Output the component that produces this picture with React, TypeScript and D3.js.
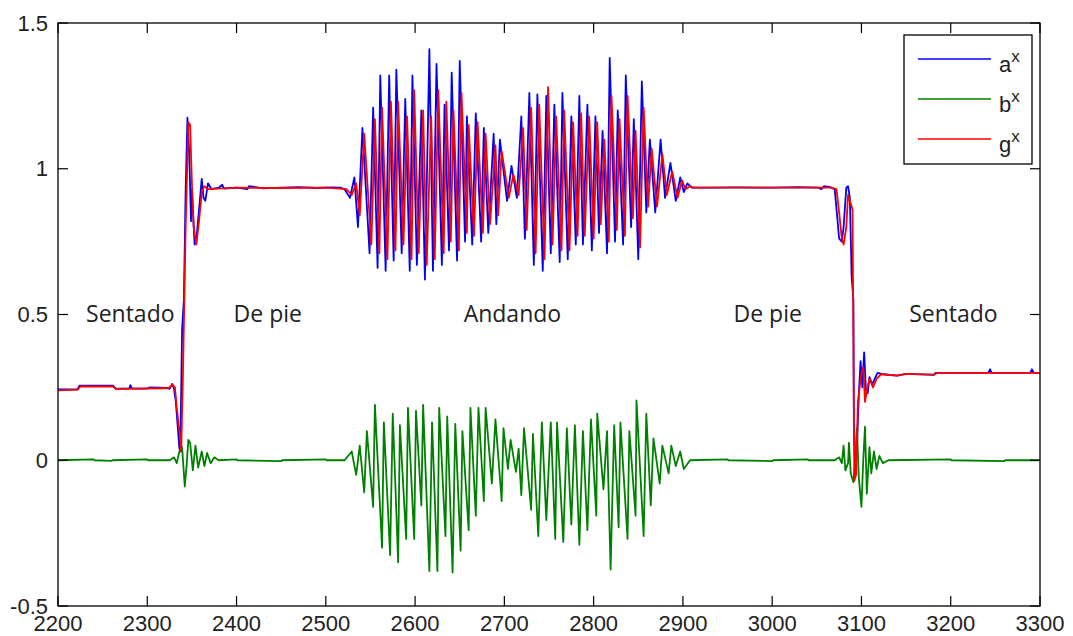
import React from 'react';
import * as d3 from 'd3';

// knots: [sample, value]
const aKnots: [number, number][] = [
  [2200, 0.243], [2222, 0.243], [2224, 0.256], [2262, 0.256], [2264, 0.246], [2280, 0.246], [2281, 0.258], [2283, 0.246],
  [2300, 0.246], [2303, 0.25], [2322, 0.248], [2325, 0.245], [2328, 0.262], [2330, 0.245], [2332, 0.2], [2334, 0.12],
  [2336, 0.04], [2337, 0.03], [2339, 0.45], [2341, 0.55], [2343, 0.93], [2345, 1.175], [2347, 1.05], [2349, 0.82],
  [2350, 0.93], [2353, 0.74], [2355, 0.76], [2358, 0.86], [2361, 0.965], [2363, 0.9], [2365, 0.89], [2368, 0.95],
  [2372, 0.93], [2380, 0.935], [2384, 0.945], [2386, 0.932], [2400, 0.935], [2412, 0.93], [2414, 0.94], [2430, 0.933],
  [2450, 0.935], [2470, 0.937], [2490, 0.934], [2505, 0.936], [2516, 0.935],
  [2521, 0.93], [2527, 0.9], [2532, 0.97], [2536, 0.8], [2541, 1.14], [2549, 0.71], [2553, 1.21], [2558, 0.66],
  [2561, 1.32], [2567, 0.65], [2571, 1.32], [2576, 0.685], [2579, 1.34], [2585, 0.71], [2589, 1.24], [2594, 0.65],
  [2597, 1.32], [2602, 0.67], [2607, 1.2], [2611, 0.62], [2616, 1.41], [2620, 0.65], [2624, 1.36], [2630, 0.67],
  [2633, 1.22], [2638, 0.72], [2641, 1.33], [2647, 0.685], [2650, 1.37], [2656, 0.75], [2658, 1.18], [2664, 0.74],
  [2668, 1.19], [2674, 0.75], [2677, 1.14], [2682, 0.78], [2688, 1.12], [2691, 0.81], [2695, 1.1], [2703, 0.89],
  [2708, 1.01], [2714, 0.9], [2719, 1.18], [2723, 0.76], [2728, 1.26], [2733, 0.67], [2737, 1.255], [2743, 0.65],
  [2747, 1.25], [2752, 0.71], [2756, 1.22], [2762, 0.68], [2765, 1.26], [2771, 0.69], [2775, 1.18], [2780, 0.74],
  [2784, 1.25], [2788, 0.74], [2793, 1.22], [2798, 0.72], [2802, 1.18], [2806, 0.78], [2810, 1.13], [2815, 0.71],
  [2818, 1.38], [2824, 0.75], [2827, 1.2], [2833, 0.74], [2836, 1.32], [2842, 0.8], [2845, 1.17], [2850, 0.69],
  [2854, 1.3], [2859, 0.85], [2863, 1.1], [2869, 0.85], [2875, 1.1], [2880, 0.9], [2886, 1.02], [2892, 0.89],
  [2897, 0.97], [2901, 0.92], [2905, 0.95], [2910, 0.935], [2930, 0.935], [2960, 0.936], [3000, 0.935],
  [3030, 0.937], [3052, 0.935], [3055, 0.93], [3058, 0.94], [3065, 0.937], [3070, 0.93], [3073, 0.83], [3075, 0.76],
  [3078, 0.75], [3080, 0.8], [3083, 0.935], [3085, 0.94], [3087, 0.9], [3089, 0.63], [3091, 0.55], [3091.5, 0.14],
  [3093, -0.045], [3095, 0.05], [3097, 0.22], [3099, 0.34], [3101, 0.25], [3103, 0.37], [3105, 0.24], [3107, 0.23],
  [3109, 0.285], [3112, 0.26], [3115, 0.28], [3118, 0.3], [3125, 0.295], [3140, 0.29], [3150, 0.296], [3181, 0.293],
  [3183, 0.3], [3242, 0.3], [3244, 0.312], [3246, 0.3], [3289, 0.3], [3291, 0.312], [3293, 0.3], [3300, 0.3],
];

const bKnots: [number, number][] = [
  [2200, 0], [2240, 0.003], [2241, 0], [2260, -0.002], [2261, 0], [2300, 0.003], [2301, 0], [2325, 0],
  [2330, 0.01], [2333, -0.01], [2336, 0.03], [2339, 0.045], [2342, -0.09], [2344, -0.02], [2346, 0.07], [2348, 0.06],
  [2351, -0.035], [2354, 0.05], [2357, -0.025], [2361, 0.03], [2364, -0.02], [2367, 0.025], [2371, -0.01],
  [2375, 0.01], [2380, 0], [2400, 0.003], [2401, 0], [2450, -0.003], [2451, 0], [2500, 0.003], [2501, 0],
  [2521, 0], [2529, 0.03], [2534, -0.05], [2538, 0.05], [2543, -0.11], [2546, 0.1], [2553, -0.16], [2555, 0.19],
  [2563, -0.3], [2565, 0.13], [2572, -0.325], [2575, 0.16], [2581, -0.35], [2583, 0.12], [2590, -0.27], [2592, 0.18],
  [2599, -0.27], [2601, 0.17], [2607, -0.155], [2609, 0.19], [2616, -0.38], [2619, 0.13], [2625, -0.38], [2627, 0.18],
  [2634, -0.26], [2636, 0.15], [2642, -0.385], [2645, 0.125], [2651, -0.31], [2653, 0.1], [2660, -0.24], [2662, 0.18],
  [2668, -0.19], [2671, 0.18], [2677, -0.14], [2679, 0.18], [2686, -0.08], [2690, 0.14], [2697, -0.14], [2699, 0.11],
  [2704, -0.03], [2707, 0.07], [2713, -0.04], [2716, 0.04], [2719, -0.12], [2722, 0.11], [2730, -0.17], [2732, 0.09],
  [2738, -0.26], [2742, 0.13], [2747, -0.205], [2752, 0.13], [2757, -0.27], [2759, 0.13], [2766, -0.28], [2770, 0.11],
  [2775, -0.22], [2779, 0.12], [2784, -0.29], [2788, 0.1], [2793, -0.24], [2797, 0.14], [2803, -0.19], [2804, 0.16],
  [2811, -0.1], [2815, 0.1], [2819, -0.375], [2823, 0.12], [2828, -0.23], [2830, 0.13], [2838, -0.27], [2840, 0.1],
  [2847, -0.19], [2848, 0.205], [2856, -0.26], [2859, 0.16], [2864, -0.155], [2867, 0.075], [2874, -0.08],
  [2877, 0.05], [2884, -0.045], [2887, 0.05], [2892, -0.02], [2897, 0.03], [2901, -0.03], [2908, 0],
  [2950, 0.003], [2951, 0], [3000, -0.003], [3001, 0], [3040, 0.003], [3041, 0], [3070, 0],
  [3075, 0.01], [3078, -0.01], [3080, 0.05], [3082, -0.035], [3085, -0.01], [3086, 0.06], [3088, -0.045],
  [3091, -0.075], [3093, 0], [3095, 0.11], [3097, -0.06], [3100, -0.16], [3102, 0], [3104, 0.115], [3106, -0.115],
  [3109, 0.045], [3111, -0.045], [3114, 0.03], [3117, -0.03], [3120, 0.015], [3124, -0.01], [3130, 0],
  [3200, 0.003], [3201, 0], [3260, -0.003], [3261, 0], [3300, 0],
];

const gKnots: [number, number][] = [
  [2200, 0.24], [2222, 0.242], [2225, 0.253], [2262, 0.253], [2265, 0.245], [2322, 0.247], [2325, 0.25],
  [2328, 0.26], [2331, 0.25], [2333, 0.18], [2336, 0.1], [2338, 0.03], [2340, 0.3], [2343, 0.8], [2346, 1.16],
  [2348, 1.15], [2350, 0.95], [2352, 0.8], [2355, 0.74], [2358, 0.82], [2361, 0.92], [2364, 0.94], [2368, 0.93],
  [2400, 0.935], [2450, 0.934], [2500, 0.935],
  [2523, 0.93], [2529, 0.91], [2534, 0.95], [2538, 0.84], [2543, 1.12], [2551, 0.74], [2555, 1.17], [2560, 0.71],
  [2563, 1.21], [2569, 0.69], [2573, 1.23], [2578, 0.72], [2581, 1.23], [2587, 0.74], [2591, 1.18], [2596, 0.69],
  [2599, 1.27], [2604, 0.71], [2609, 1.2], [2613, 0.67], [2618, 1.18], [2622, 0.69], [2626, 1.27], [2632, 0.71],
  [2635, 1.23], [2640, 0.75], [2643, 1.2], [2649, 0.72], [2652, 1.26], [2658, 0.78], [2660, 1.15], [2666, 0.77],
  [2670, 1.16], [2676, 0.78], [2679, 1.12], [2684, 0.81], [2690, 1.08], [2693, 0.84], [2697, 1.06], [2705, 0.9],
  [2710, 0.98], [2716, 0.91], [2721, 1.14], [2725, 0.79], [2730, 1.21], [2735, 0.71], [2739, 1.22], [2745, 0.69],
  [2749, 1.28], [2754, 0.74], [2758, 1.18], [2764, 0.72], [2767, 1.2], [2773, 0.72], [2777, 1.16], [2782, 0.77],
  [2786, 1.19], [2790, 0.77], [2795, 1.18], [2800, 0.76], [2804, 1.16], [2808, 0.81], [2812, 1.1], [2817, 0.75],
  [2820, 1.25], [2826, 0.79], [2829, 1.17], [2835, 0.77], [2838, 1.25], [2844, 0.83], [2847, 1.13], [2852, 0.73],
  [2856, 1.21], [2861, 0.87], [2865, 1.07], [2871, 0.87], [2877, 1.05], [2882, 0.91], [2888, 0.99], [2894, 0.9],
  [2899, 0.96], [2903, 0.93], [2908, 0.94], [2912, 0.935], [3000, 0.935], [3065, 0.935],
  [3072, 0.93], [3075, 0.85], [3078, 0.76], [3080, 0.74], [3083, 0.8], [3085, 0.91], [3088, 0.88], [3090, 0.86],
  [3092, -0.07], [3094, -0.05], [3096, 0.2], [3098, 0.25], [3100, 0.3], [3102, 0.32], [3104, 0.2], [3106, 0.24],
  [3109, 0.28], [3113, 0.25], [3117, 0.28], [3122, 0.295], [3140, 0.29], [3150, 0.296], [3182, 0.294],
  [3185, 0.3], [3300, 0.3],
];

const seriesNames = ['a', 'b', 'g'];
const seriesColors = ['#0000ff', '#008000', '#ff0000'];

const xTicks = [2200, 2300, 2400, 2500, 2600, 2700, 2800, 2900, 3000, 3100, 3200, 3300];
const yTicks = [-0.5, 0, 0.5, 1, 1.5];
const yTickLabels = ['-0.5', '0', '0.5', '1', '1.5'];

const phaseLabels = ['Sentado', 'De pie', 'Andando', 'De pie', 'Sentado'];
const phaseCenters = [2281, 2435, 2709, 2995, 3203];

const L = 58, R = 1040, T = 23, B = 606;

export default function App() {
  const x = d3.scaleLinear().domain([2200, 3300]).range([L, R]);
  const y = d3.scaleLinear().domain([-0.5, 1.5]).range([B, T]);
  const line = d3.line<[number, number]>().x(d => x(d[0])).y(d => y(d[1]));
  const allSeries = [aKnots, bKnots, gKnots];
  const tickFont = '"Liberation Sans", Arial, sans-serif';

  return (
    <svg width={1073} height={636} style={{ position: 'absolute', left: 0, top: 0, background: '#fff' }}>
      <defs>
        <clipPath id="plot">
          <rect x={L} y={T} width={R - L} height={B - T} />
        </clipPath>
      </defs>
      <rect x={0} y={0} width={1073} height={636} fill="#fff" />

      {phaseLabels.map((t, i) => (
        <text key={i} x={x(phaseCenters[i])} y={y(0.505)} textAnchor="middle" dominantBaseline="central"
          fontFamily='"Open Sans", sans-serif' fontSize={23} fill="#222">{t}</text>
      ))}

      <g clipPath="url(#plot)">
        {allSeries.map((s, i) => (
          <path key={i} d={line(s) || ''} fill="none" stroke={seriesColors[i]} strokeWidth={1.8} strokeLinejoin="round" />
        ))}
      </g>

      <rect x={L} y={T} width={R - L} height={B - T} fill="none" stroke="#000" strokeWidth={1.3} />
      {xTicks.map(t => (
        <g key={t}>
          <line x1={x(t)} x2={x(t)} y1={B} y2={B - 10} stroke="#000" strokeWidth={1.2} />
          <line x1={x(t)} x2={x(t)} y1={T} y2={T + 10} stroke="#000" strokeWidth={1.2} />
          <text x={x(t)} y={631} textAnchor="middle" fontFamily={tickFont} fontSize={22} fill="#222">{t}</text>
        </g>
      ))}
      {yTicks.map((t, i) => (
        <g key={t}>
          <line x1={L} x2={L + 10} y1={y(t)} y2={y(t)} stroke="#000" strokeWidth={1.2} />
          <line x1={R} x2={R - 10} y1={y(t)} y2={y(t)} stroke="#000" strokeWidth={1.2} />
          <text x={48} y={y(t)} textAnchor="end" dominantBaseline="central" fontFamily={tickFont} fontSize={22} fill="#222">{yTickLabels[i]}</text>
        </g>
      ))}

      <g>
        <rect x={904} y={35} width={128} height={129} fill="#fff" stroke="#000" strokeWidth={1.3} />
        {seriesNames.map((n, i) => {
          const ly = 59 + i * 40;
          return (
            <g key={n}>
              <line x1={918} x2={991} y1={ly} y2={ly} stroke={seriesColors[i]} strokeWidth={1.6} />
              <text x={999} y={ly + 13} fontFamily={tickFont} fontSize={22} fill="#222">
                {n}<tspan dy={-10} fontSize={17}>x</tspan>
              </text>
            </g>
          );
        })}
      </g>
    </svg>
  );
}
